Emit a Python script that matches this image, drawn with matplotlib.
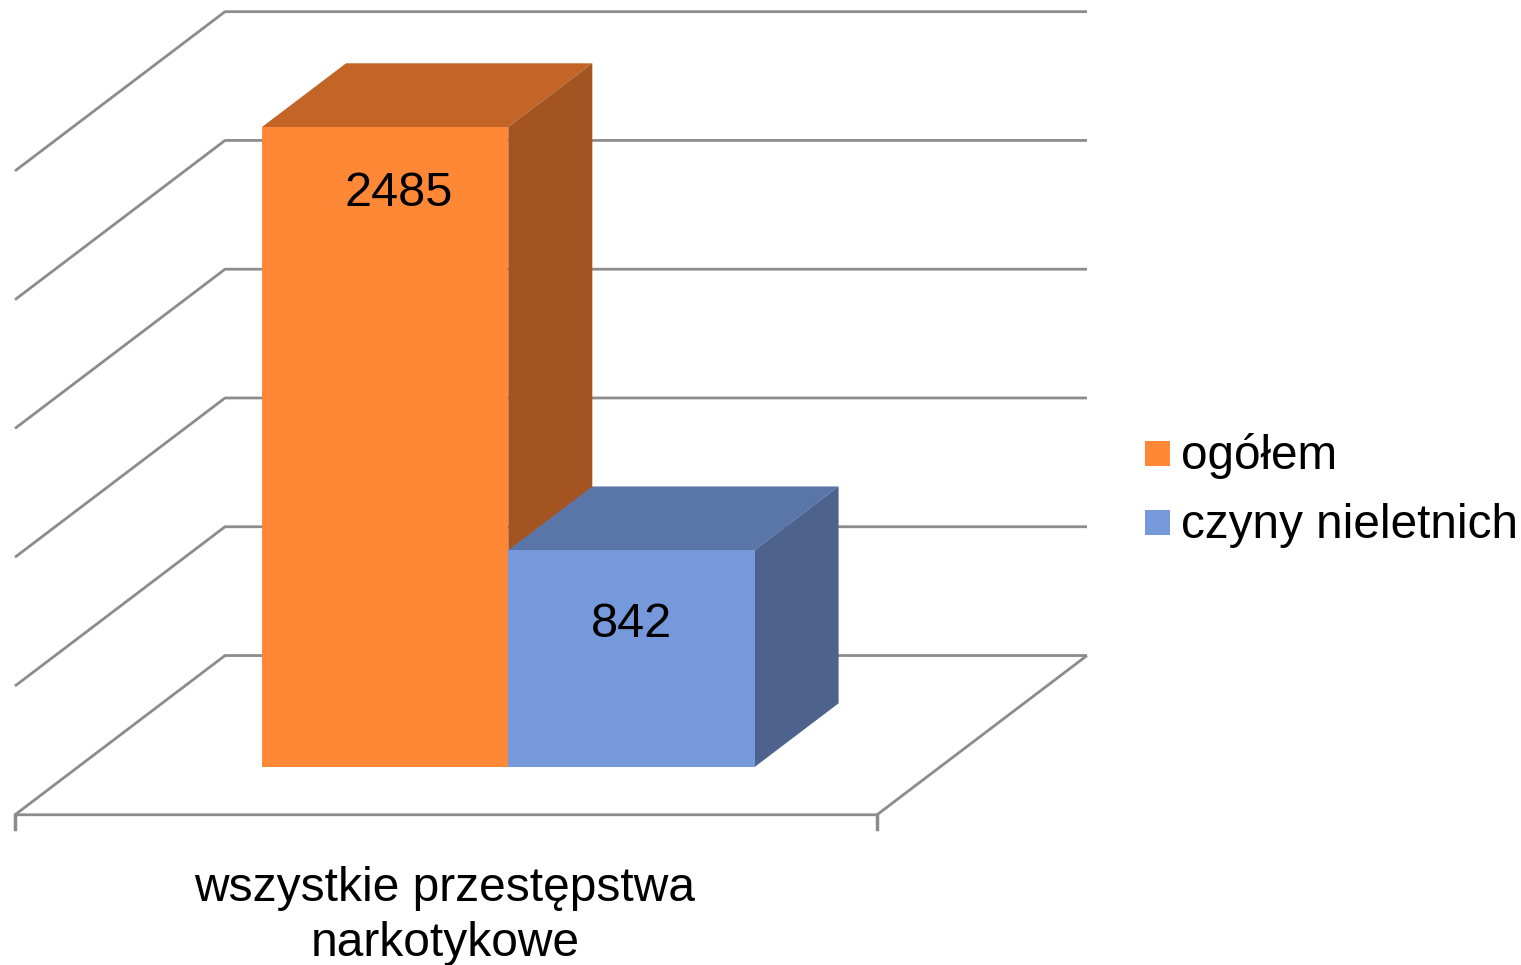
import matplotlib
matplotlib.use("Agg")
from matplotlib import pyplot as plt
from matplotlib.patches import Polygon, Rectangle

series_names = ["ogółem", "czyny nieletnich"]
series_values = [2485, 842]
category_label = "wszystkie przestępstwa\nnarkotykowe"
grid_values = [0, 500, 1000, 1500, 2000, 2500]

front_colors = ["#FF8837", "#7599DA"]
top_colors = ["#C26526", "#5A76A8"]
side_colors = ["#A35420", "#4D628D"]
line_color = "#8C8C8C"

plt.rcParams["font.family"] = ["Liberation Sans", "DejaVu Sans"]

fig = plt.figure(figsize=(15.21, 9.65), dpi=100)
ax = fig.add_axes([0, 0, 1, 1])

# one x unit is one bar width, y is in data values
px_x = 246.3
px_y = 640.0 / 2485
ax.set_xlim(-262 / px_x, (1521 - 262) / px_x)
ax.set_ylim(-(965 - 767) / px_y, 767 / px_y)
ax.axis("off")

# oblique depth of one bar
depth_x = 84 / px_x
depth_y = 63.7 / px_y
floor_front = -0.75
floor_back = 1.75
floor_left = (78 - 262) / px_x
floor_right = (940 - 262) / px_x


def project(x, y, d):
    return x + d * depth_x, y + d * depth_y


def wall_line(points, **kw):
    xs, ys = zip(*[project(*p) for p in points])
    ax.plot(xs, ys, color=line_color, lw=2, solid_capstyle="butt", zorder=1, **kw)


for v in grid_values:
    wall_line([(floor_left, v, floor_front), (floor_left, v, floor_back), (floor_right, v, floor_back)])
wall_line([(floor_left, 0, floor_front), (floor_right, 0, floor_front), (floor_right, 0, floor_back)])

# ticks under the floor
tick_len = 14 / px_y
for x in [floor_left, floor_right]:
    x0, y0 = project(x, 0, floor_front)
    ax.plot([x0, x0], [y0, y0 - tick_len], color=line_color, lw=2.5, zorder=1)

for i, value in enumerate(series_values):
    x0, x1 = i, i + 1
    ax.add_patch(Polygon([project(x0, value, 0), project(x1, value, 0), project(x1, value, 1), project(x0, value, 1)],
                         closed=True, fc=top_colors[i], ec="none", zorder=2 + i))
    ax.add_patch(Polygon([project(x1, 0, 0), project(x1, value, 0), project(x1, value, 1), project(x1, 0, 1)],
                         closed=True, fc=side_colors[i], ec="none", zorder=2 + i))
    ax.add_patch(Rectangle((x0, 0), 1, value, fc=front_colors[i], ec="none", zorder=2 + i))

# value labels
ax.text(0.555, series_values[0] - 66 / px_y, str(series_values[0]), fontsize=35, ha="center", va="center", color="black", zorder=6)
ax.text(1.5, series_values[1] - 74 / px_y, str(series_values[1]), fontsize=35, ha="center", va="center", color="black", zorder=6)

ax.text((445 - 262) / px_x, (767 - 916) / px_y, category_label, fontsize=34.5, ha="center", va="center",
        linespacing=1.29, color="black")

# legend
legend_y = [453, 522]
for i, name in enumerate(series_names):
    y = (767 - legend_y[i]) / px_y
    ax.add_patch(Rectangle(((1145 - 262) / px_x, y - 12.5 / px_y), 25 / px_x, 25 / px_y, fc=front_colors[i], ec="none"))
    ax.text((1181 - 262) / px_x, y - 3 / px_y, name, fontsize=34.4, ha="left", va="center", color="black")

fig.savefig("out.png", dpi=100)
